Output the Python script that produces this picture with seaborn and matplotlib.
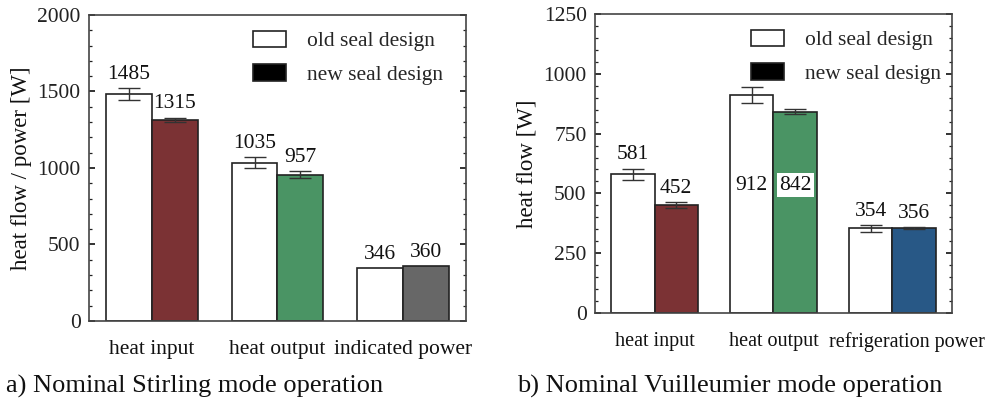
import matplotlib
matplotlib.use("Agg")
import matplotlib.pyplot as plt
import seaborn as sns
import pandas as pd
from matplotlib.patches import Patch
from matplotlib.ticker import MultipleLocator
from matplotlib.transforms import ScaledTranslation

sns.set_theme(style="white")
plt.rcParams["font.family"] = ["Liberation Serif", "DejaVu Serif"]

# --- data -------------------------------------------------------------
designs = ["old seal design", "new seal design"]

stirling_categories = ["heat input", "heat output", "indicated power"]
stirling_old = [1485, 1035, 346]
stirling_new = [1315, 957, 360]
stirling_old_err = [38, 34, 0]
stirling_new_err = [15, 25, 0]

vm_categories = ["heat input", "heat output", "refrigeration power"]
vm_old = [581, 912, 354]
vm_new = [452, 842, 356]
vm_old_err = [23, 33, 15]
vm_new_err = [11, 9, 3]

stirling_new_colors = ["#7b3234", "#4a9464", "#676767"]
vm_new_colors = ["#7b3234", "#4a9464", "#285886"]

EDGE = "#222222"
FS = 15.5


def make_frame(categories, old, new):
    rows = []
    for c, o, n in zip(categories, old, new):
        rows.append({"category": c, "design": designs[0], "value": o})
        rows.append({"category": c, "design": designs[1], "value": n})
    return pd.DataFrame(rows)


def draw_panel(ax, categories, old, new, old_err, new_err, new_colors,
               ymax, major, minor, ylabel, legend_anchor,
               xtick_size=FS, inside_labels=()):
    df = make_frame(categories, old, new)
    sns.barplot(data=df, x="category", y="value", hue="design",
                hue_order=designs, order=categories, errorbar=None,
                width=0.73, palette=["white", "black"], edgecolor=EDGE,
                linewidth=1.2, legend=False, ax=ax, zorder=2)

    old_bars, new_bars = ax.containers[0], ax.containers[1]
    for patch, col in zip(new_bars.patches, new_colors):
        patch.set_facecolor(col)

    # error bars and value labels
    for bars, vals, errs, is_new in ((old_bars, old, old_err, False),
                                     (new_bars, new, new_err, True)):
        for i, (patch, v, e) in enumerate(zip(bars.patches, vals, errs)):
            xc = patch.get_x() + patch.get_width() / 2
            if e > 0:
                ax.errorbar(xc, v, yerr=e, fmt="none", ecolor="#333333",
                            elinewidth=1.0, capsize=8, capthick=1.0, zorder=3)
            if i in inside_labels:
                ypos = 535
                bbox = dict(facecolor="white", edgecolor="none", pad=1.5) if is_new else None
                ax.text(xc, ypos, str(v), ha="center", va="center",
                        fontsize=FS, color="#111111", bbox=bbox, zorder=4)
            else:
                top = v + e
                ax.annotate(str(v), (xc, top), xytext=(0, 3),
                            textcoords="offset points", ha="center",
                            va="bottom", fontsize=FS, color="#111111")

    ax.set_xlim(-0.5, 2.5)
    ax.set_ylim(0, ymax)
    ax.yaxis.set_major_locator(MultipleLocator(major))
    ax.yaxis.set_minor_locator(MultipleLocator(minor))
    ax.tick_params(axis="y", which="both", direction="in", left=True,
                   right=True, colors="#222222", labelsize=FS, pad=6)
    ax.tick_params(axis="y", which="major", length=4, width=1.3)
    ax.tick_params(axis="y", which="minor", length=2.5, width=0.9)
    ax.tick_params(axis="x", which="both", length=0, labelsize=xtick_size,
                   pad=14, colors="#111111")
    ax.set_xlabel("")
    ax.set_ylabel(ylabel, fontsize=16.5, color="#111111", labelpad=4)
    for s in ax.spines.values():
        s.set_visible(True)
        s.set_color("#444444")
        s.set_linewidth(1.2)

    handles = [Patch(facecolor="white", edgecolor=EDGE, linewidth=1.2),
               Patch(facecolor="black", edgecolor=EDGE, linewidth=1.2)]
    ax.legend(handles, designs, loc="upper left", frameon=False,
              fontsize=FS, handlelength=1.55, handleheight=0.8,
              handletextpad=0.95, labelspacing=0.6, borderpad=0,
              borderaxespad=0, bbox_to_anchor=legend_anchor)


fig = plt.figure(figsize=(9.93, 4.03), dpi=100)
ax1 = fig.add_axes([0.0896, 0.2035, 0.3797, 0.7593])
ax2 = fig.add_axes([0.5992, 0.2233, 0.3595, 0.7420])

draw_panel(ax1, stirling_categories, stirling_old, stirling_new,
           stirling_old_err, stirling_new_err, stirling_new_colors,
           2000, 500, 100, "heat flow / power [W]", (0.435, 0.949))
draw_panel(ax2, vm_categories, vm_old, vm_new, vm_old_err, vm_new_err,
           vm_new_colors, 1250, 250, 50, "heat flow [W]", (0.437, 0.948),
           xtick_size=14.5, inside_labels=(1,))

# the long category name sits slightly right of its group
last = ax2.get_xticklabels()[-1]
last.set_transform(last.get_transform() +
                   ScaledTranslation(14 / 100, 0, fig.dpi_scale_trans))

fig.text(0.006, 0.04, "a) Nominal Stirling mode operation", fontsize=19,
         color="#111111", va="center", ha="left")
fig.text(0.521, 0.04, "b) Nominal Vuilleumier mode operation", fontsize=19,
         color="#111111", va="center", ha="left")

fig.savefig("out.png", dpi=100)
